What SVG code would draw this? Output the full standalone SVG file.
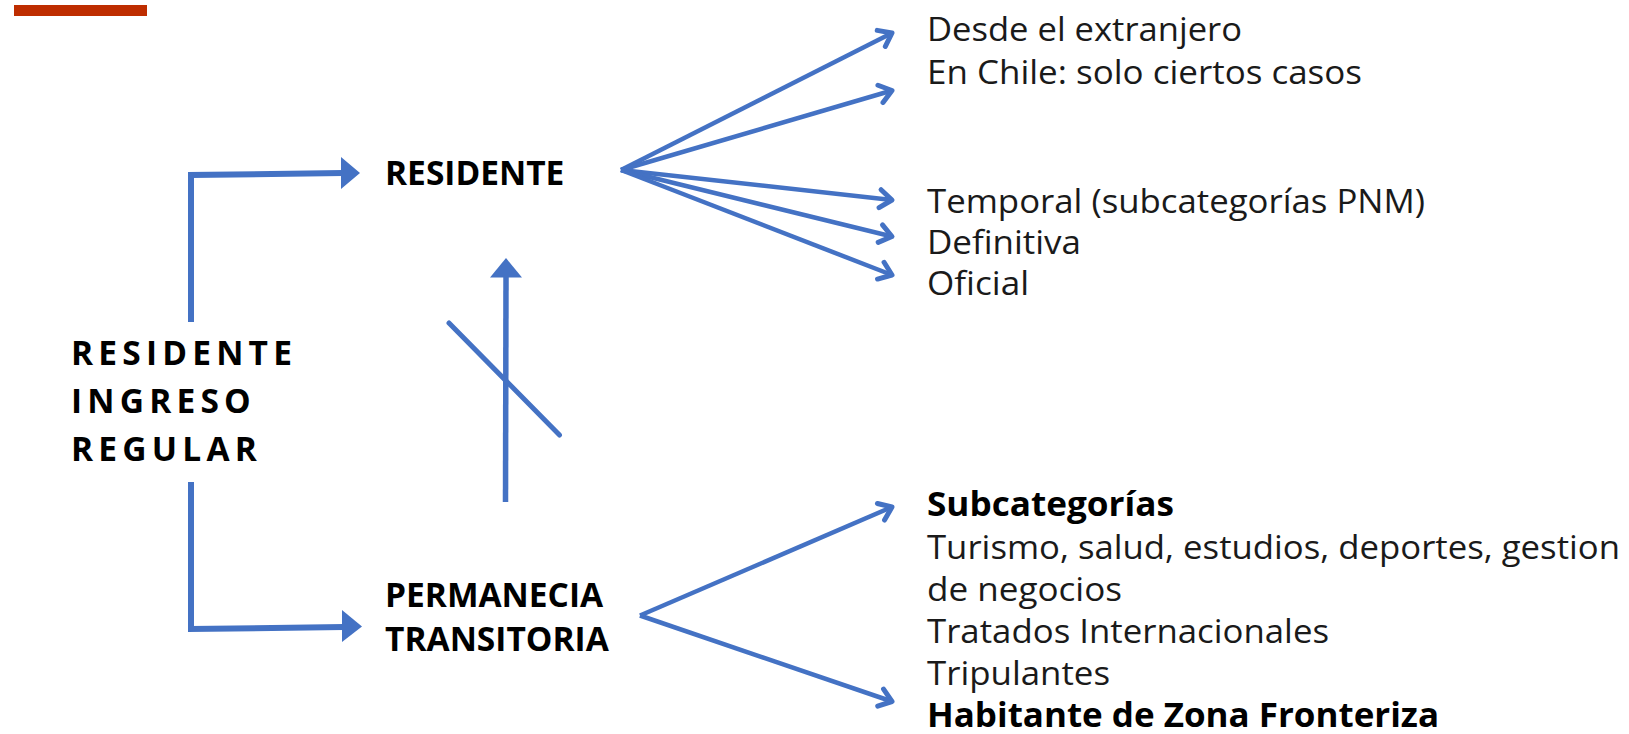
<svg xmlns="http://www.w3.org/2000/svg" width="1629" height="734" viewBox="0 0 1629 734">
  <style>
    .bold { font-family: "Open Sans", "Noto Sans", "Liberation Sans", sans-serif; font-weight: 700; font-size: 33.5px; fill: #000000; }
    .title { letter-spacing: 5.2px; }
    .reg { font-family: "Open Sans", "Noto Sans", "Liberation Sans", sans-serif; font-weight: 400; font-size: 33px; fill: #1a1a1a; }
    .conn { stroke: #4472C4; fill: none; }
    .thick { stroke-width: 6; }
    .fan { stroke-width: 4.5; marker-end: url(#chev); }
    .head { fill: #4472C4; }
  </style>
  <defs>
    <marker id="chev" markerUnits="userSpaceOnUse" viewBox="0 0 20 24" refX="16" refY="12" markerWidth="20" markerHeight="24" orient="auto">
      <path d="M4,3 L16,12 L4,21" fill="none" stroke="#4472C4" stroke-width="5" stroke-linecap="round" stroke-linejoin="round"/>
    </marker>
  </defs>
  <rect x="14" y="5" width="133" height="11" fill="#BE2D00"/>

  <g id="connectors">
    <polyline class="conn thick" points="191,322 191,175 343,173"/>
    <polygon class="head" points="341,157 360,173 341,189"/>
    <polyline class="conn thick" points="191,482 191,629 344,627"/>
    <polygon class="head" points="342,610 362,626.5 342,642"/>
    <line class="conn" x1="505.5" y1="502" x2="506" y2="276" stroke-width="5.5"/>
    <polygon class="head" points="490,277.5 506,258 522,277.5"/>
    <line class="conn" x1="449" y1="323" x2="559.5" y2="435" stroke-width="5" stroke-linecap="round"/>
    <line class="conn fan" x1="621" y1="170" x2="892" y2="33"/>
    <line class="conn fan" x1="621" y1="170" x2="892" y2="90.5"/>
    <line class="conn fan" x1="621" y1="170" x2="892" y2="200"/>
    <line class="conn fan" x1="621" y1="170" x2="892" y2="236.5"/>
    <line class="conn fan" x1="621" y1="170" x2="892" y2="275"/>
    <line class="conn fan" x1="640" y1="615.5" x2="892" y2="507"/>
    <line class="conn fan" x1="640" y1="615.5" x2="892" y2="701.5"/>
  </g>

  <g id="node-ingreso-regular">
    <text class="bold title" x="71" y="365">RESIDENTE</text>
    <text class="bold title" x="71" y="413">INGRESO</text>
    <text class="bold title" x="71" y="460.5">REGULAR</text>
  </g>
  <g id="node-residente">
    <text class="bold" x="385" y="185">RESIDENTE</text>
  </g>
  <g id="node-permanencia">
    <text class="bold" x="385" y="607">PERMANECIA</text>
    <text class="bold" x="385" y="650.5">TRANSITORIA</text>
  </g>
  <g id="node-residente-opciones">
    <text class="reg" x="927" y="41" textLength="315" lengthAdjust="spacingAndGlyphs">Desde el extranjero</text>
    <text class="reg" x="927" y="83.5" textLength="435" lengthAdjust="spacingAndGlyphs">En Chile: solo ciertos casos</text>
    <text class="reg" x="927" y="213" textLength="498" lengthAdjust="spacingAndGlyphs">Temporal (subcategorías PNM)</text>
    <text class="reg" x="927" y="254" textLength="154" lengthAdjust="spacingAndGlyphs">Definitiva</text>
    <text class="reg" x="927" y="295" textLength="102" lengthAdjust="spacingAndGlyphs">Oficial</text>
  </g>
  <g id="node-permanencia-opciones">
    <text class="bold" x="927" y="516" textLength="247" lengthAdjust="spacingAndGlyphs">Subcategorías</text>
    <text class="reg" x="927" y="559" textLength="693" lengthAdjust="spacingAndGlyphs">Turismo, salud, estudios, deportes, gestion</text>
    <text class="reg" x="927" y="601" textLength="195" lengthAdjust="spacingAndGlyphs">de negocios</text>
    <text class="reg" x="927" y="642.5" textLength="402" lengthAdjust="spacingAndGlyphs">Tratados Internacionales</text>
    <text class="reg" x="927" y="684.5" textLength="183" lengthAdjust="spacingAndGlyphs">Tripulantes</text>
    <text class="bold" x="927" y="726.5" textLength="512" lengthAdjust="spacingAndGlyphs">Habitante de Zona Fronteriza</text>
  </g>
</svg>
